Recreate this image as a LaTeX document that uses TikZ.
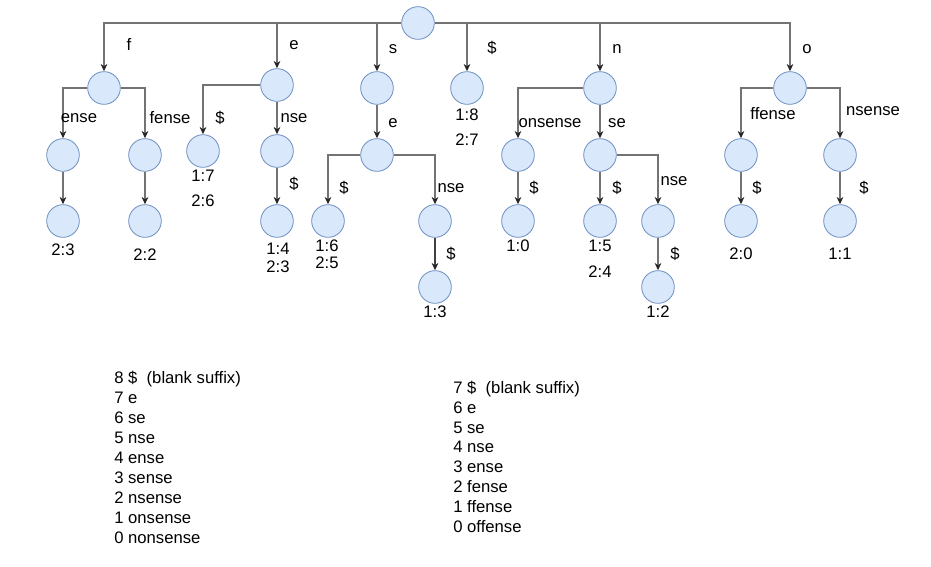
\documentclass[tikz,border=0pt]{standalone}
\usepackage{fontspec}
\setmainfont{Liberation Sans}
\usetikzlibrary{arrows.meta}
\definecolor{nodefill}{HTML}{DAE8FC}
\definecolor{nodeline}{HTML}{6C8EBF}
\begin{document}
\begin{tikzpicture}[x=0.75pt, y=-0.75pt, font=\fontsize{12.5}{14}\selectfont,
	trie/.style={circle, fill=nodefill, draw=nodeline, line width=0.6pt, minimum size=24.5pt, inner sep=0pt},
	edge/.style={-{Stealth[length=5.5pt, width=5pt, color=black!85]}, line width=0.8pt, color=black!55},
	lbl/.style={inner sep=0pt},
	suffix/.style={anchor=base west, inner sep=0pt}]
	\useasboundingbox (0,0) rectangle (931,567);

	\node[trie](root) at (418,23){};

	\node[trie](nf) at (104,88){};
	\node[trie](ne) at (277,85){};
	\node[trie](ns) at (377,88){};
	\node[trie](nd) at (467,88){};
	\node[trie](nn) at (600,88){};
	\node[trie](no) at (790,88){};

	\node[trie](nfe) at (63,155){};
	\node[trie](nff) at (145,155){};
	\node[trie](ned) at (203,151){};
	\node[trie](nen) at (277,151){};
	\node[trie](nse) at (377,155){};
	\node[trie](nnon) at (518,155){};
	\node[trie](nnse) at (600,155){};
	\node[trie](nof) at (741,155){};
	\node[trie](non) at (840,155){};

	\node[trie](nfe2) at (63,221){};
	\node[trie](nff2) at (145,221){};
	\node[trie](nend) at (277,221){};
	\node[trie](nsed) at (328,221){};
	\node[trie](nsen) at (435,221){};
	\node[trie](nnond) at (518,221){};
	\node[trie](nnsed) at (600,221){};
	\node[trie](nnsen) at (658,221){};
	\node[trie](nofd) at (741,221){};
	\node[trie](nond) at (840,221){};

	\node[trie](nsend) at (435,287){};
	\node[trie](nnsend) at (658,287){};

	% edges from the root
	\draw[edge] (root.west) -| (nf.north);
	\draw[edge] (root.west) -| (ne.north);
	\draw[edge] (root.west) -| (ns.north);
	\draw[edge] (root.east) -| (nd.north);
	\draw[edge] (root.east) -| (nn.north);
	\draw[edge] (root.east) -| (no.north);

	\draw[edge] (nf.west) -| (nfe.north);
	\draw[edge] (nf.east) -| (nff.north);
	\draw[edge] (ne.west) -| (ned.north);
	\draw[edge] (ne.south) -- (nen.north);
	\draw[edge] (ns.south) -- (nse.north);
	\draw[edge] (nn.west) -| (nnon.north);
	\draw[edge] (nn.south) -- (nnse.north);
	\draw[edge] (no.west) -| (nof.north);
	\draw[edge] (no.east) -| (non.north);

	\draw[edge] (nfe.south) -- (nfe2.north);
	\draw[edge] (nff.south) -- (nff2.north);
	\draw[edge] (nen.south) -- (nend.north);
	\draw[edge] (nse.west) -| (nsed.north);
	\draw[edge] (nse.east) -| (nsen.north);
	\draw[edge] (nnon.south) -- (nnond.north);
	\draw[edge] (nnse.south) -- (nnsed.north);
	\draw[edge] (nnse.east) -| (nnsen.north);
	\draw[edge] (nof.south) -- (nofd.north);
	\draw[edge] (non.south) -- (nond.north);

	\draw[edge, line width=1.2pt, color=black!75] (nsen.south) -- (nsend.north);
	\draw[edge] (nnsen.south) -- (nnsend.north);

	% edge labels
	\node[lbl](lf) at (129,44){f};
	\node[lbl](le) at (294,45){e};
	\node[lbl](ls) at (393,49){s};
	\node[lbl](ld) at (492,48){\$};
	\node[lbl](ln) at (617,49){n};
	\node[lbl](lo) at (807,49){o};

	\node[lbl](lfe) at (79,118){ense};
	\node[lbl](lff) at (170,118){fense};
	\node[lbl](led) at (220,118){\$};
	\node[lbl](len) at (294,118){nse};
	\node[lbl](lse) at (393,123){e};
	\node[lbl](lnon) at (550,123){onsense};
	\node[lbl](lnse) at (617,123){se};
	\node[lbl](lof) at (773,114){ffense};
	\node[lbl](lon) at (873,111){nsense};

	\node[lbl](lend) at (294,184){\$};
	\node[lbl](lsed) at (344,188){\$};
	\node[lbl](lsen) at (451,188){nse};
	\node[lbl](lnond) at (534,188){\$};
	\node[lbl](lnsed) at (617,188){\$};
	\node[lbl](lnsen) at (674,181){nse};
	\node[lbl](lofd) at (757,188){\$};
	\node[lbl](lond) at (864,188){\$};

	\node[lbl](lsend) at (451,254){\$};
	\node[lbl](lnsend) at (675,254){\$};

	% leaf positions
	\node[lbl](pd1) at (467,115){1:8};
	\node[lbl](pd2) at (467,140){2:7};
	\node[lbl](pfe) at (63,250){2:3};
	\node[lbl](pff) at (145,255){2:2};
	\node[lbl](ped1) at (203,176){1:7};
	\node[lbl](ped2) at (203,201){2:6};
	\node[lbl](pend1) at (278,249){1:4};
	\node[lbl](pend2) at (278,267){2:3};
	\node[lbl](psed1) at (327,246){1:6};
	\node[lbl](psed2) at (327,263){2:5};
	\node[lbl](psend) at (435,312){1:3};
	\node[lbl](pnond) at (518,246){1:0};
	\node[lbl](pnsed1) at (600,246){1:5};
	\node[lbl](pnsed2) at (600,272){2:4};
	\node[lbl](pnsend) at (658,312){1:2};
	\node[lbl](pofd) at (741,254){2:0};
	\node[lbl](pond) at (840,254){1:1};

	% suffix lists
	\node[suffix](sa8) at (114,383.5){8 \$\ \ (blank suffix)};
	\node[suffix](sa7) at (114,403.5){7 e};
	\node[suffix](sa6) at (114,423.5){6 se};
	\node[suffix](sa5) at (114,443.5){5 nse};
	\node[suffix](sa4) at (114,463.5){4 ense};
	\node[suffix](sa3) at (114,483.5){3 sense};
	\node[suffix](sa2) at (114,503.5){2 nsense};
	\node[suffix](sa1) at (114,523.5){1 onsense};
	\node[suffix](sa0) at (114,543.5){0 nonsense};

	\node[suffix](sb7) at (453,393.5){7 \$\ \ (blank suffix)};
	\node[suffix](sb6) at (453,413.3){6 e};
	\node[suffix](sb5) at (453,433.1){5 se};
	\node[suffix](sb4) at (453,452.9){4 nse};
	\node[suffix](sb3) at (453,472.7){3 ense};
	\node[suffix](sb2) at (453,492.5){2 fense};
	\node[suffix](sb1) at (453,512.3){1 ffense};
	\node[suffix](sb0) at (453,532.1){0 offense};

\end{tikzpicture}
\end{document}
